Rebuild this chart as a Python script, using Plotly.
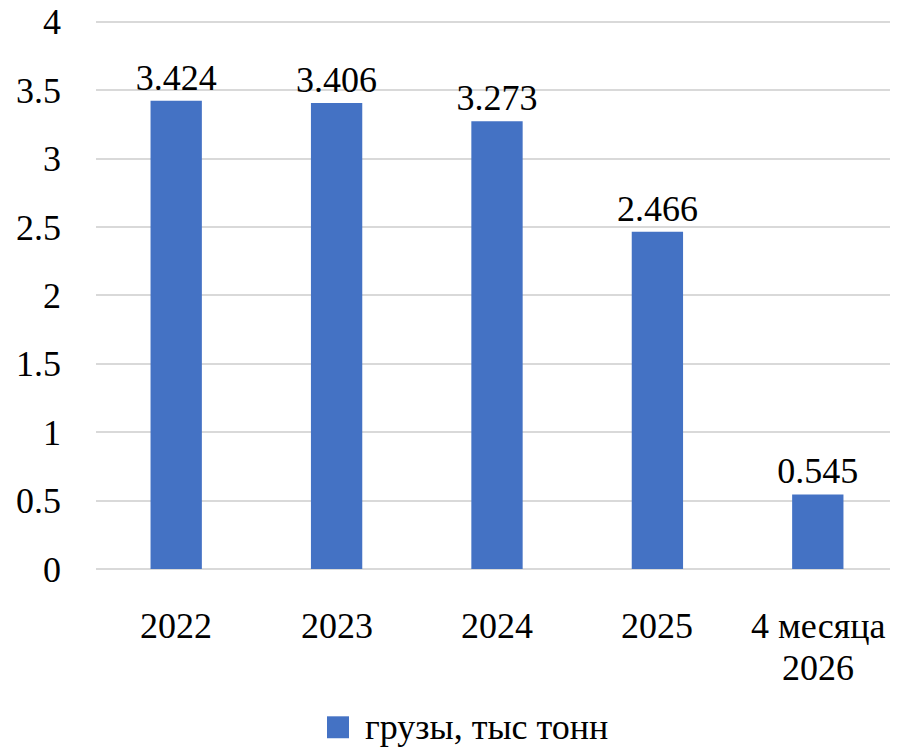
import plotly.graph_objects as go

categories = ["2022", "2023", "2024", "2025", "4 месяца 2026"]
category_lines = [["2022"], ["2023"], ["2024"], ["2025"], ["4 месяца", "2026"]]
values = [3.424, 3.406, 3.273, 2.466, 0.545]
labels = ["3.424", "3.406", "3.273", "2.466", "0.545"]
series_name = "грузы, тыс тонн"
ytick_vals = [0, 0.5, 1, 1.5, 2, 2.5, 3, 3.5, 4]
ytick_text = ["0", "0.5", "1", "1.5", "2", "2.5", "3", "3.5", "4"]

FONT = "Liberation Serif"
FS = 36
BLUE = "#4472C4"
GRID = "#D9D9D9"

fig = go.Figure()
fig.add_trace(go.Bar(
    x=categories, y=values, name=series_name,
    marker=dict(color=BLUE, line=dict(width=0)),
    text=labels, textposition="outside", cliponaxis=False,
    constraintext="none",
    textfont=dict(family=FONT, size=FS, color="#000000"),
    width=0.32, showlegend=False,
))

annotations = []
for idx, lines in enumerate(category_lines):
    for i, line in enumerate(lines):
        annotations.append(dict(
            x=idx, xref="x", y=0, yref="paper", text=line, showarrow=False,
            xanchor="center", yanchor="middle", yshift=-57 - 42 * i,
            font=dict(family=FONT, size=FS, color="#000000"),
        ))
# legend text
annotations.append(dict(
    x=0.333, xref="paper", y=-0.2857, yref="paper", text=series_name,
    showarrow=False, xanchor="left", yanchor="middle",
    font=dict(family=FONT, size=FS, color="#000000"),
))

fig.update_layout(
    width=890, height=742,
    margin=dict(l=88, r=0, t=6.65, b=180.5, autoexpand=False),
    paper_bgcolor="white", plot_bgcolor="white",
    font=dict(family=FONT, size=FS, color="#000000"),
    showlegend=False,
    xaxis=dict(type="category", categoryorder="array", categoryarray=categories,
               range=[-0.5, 4.5], automargin=False,
               showgrid=False, showline=False, zeroline=False, ticks="",
               showticklabels=False),
    yaxis=dict(range=[0, 4.05], tickvals=ytick_vals, ticktext=ytick_text,
               automargin=False,
               showgrid=True, gridcolor=GRID, gridwidth=2,
               zeroline=True, zerolinecolor=GRID, zerolinewidth=2,
               showline=False, ticks="", ticklabelstandoff=34,
               ticklabeloverflow="allow",
               tickfont=dict(family=FONT, size=FS)),
    annotations=annotations,
    shapes=[dict(type="rect", xref="paper", yref="paper",
                 x0=0.288, x1=0.3155, y0=-0.3055, y1=-0.2659,
                 fillcolor=BLUE, line=dict(width=0))],
)

fig.write_html("out.html")
